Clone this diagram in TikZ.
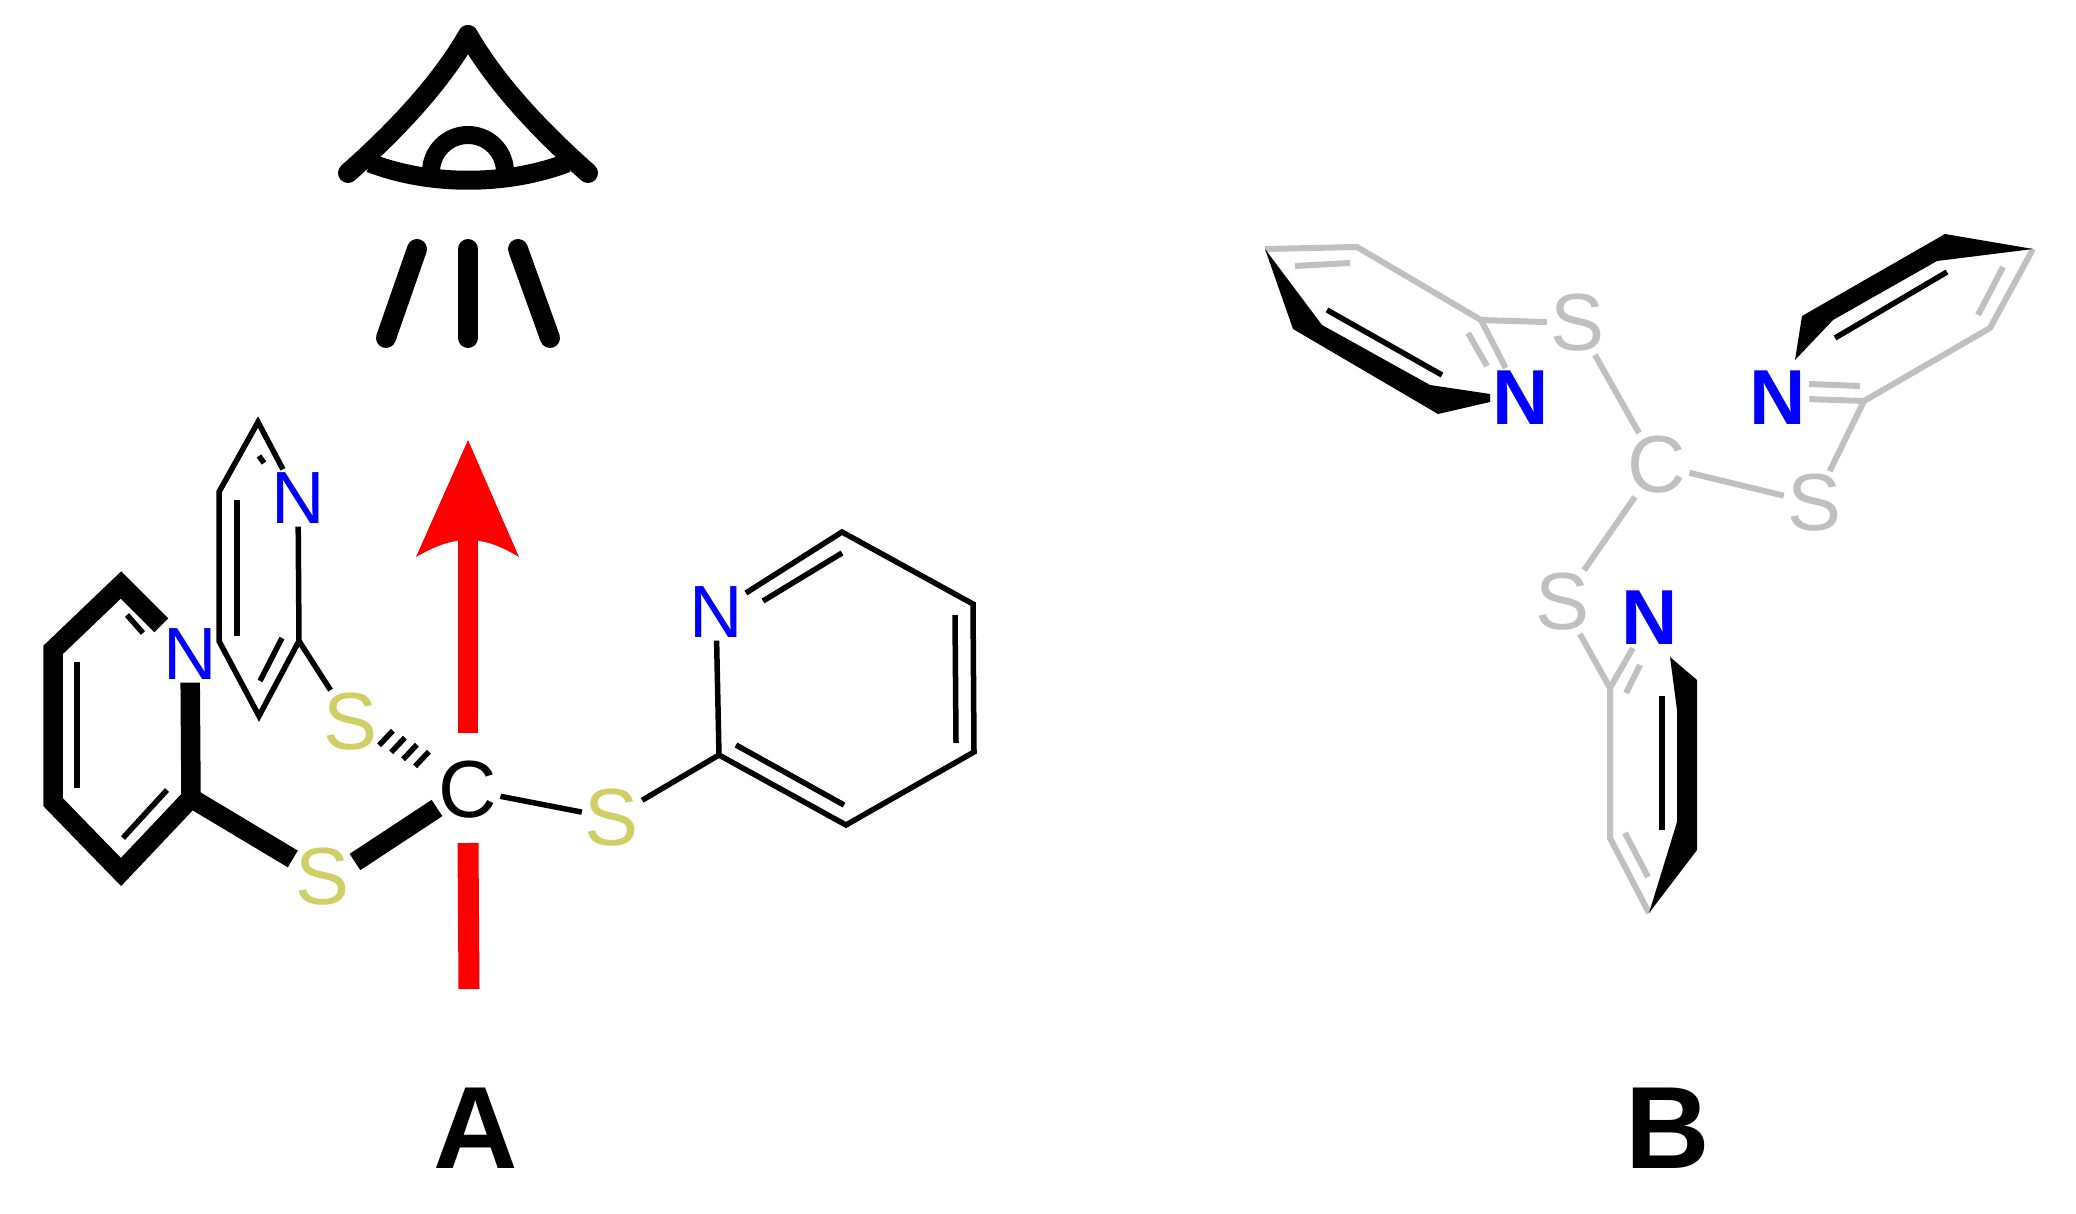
\documentclass[tikz,border=0pt]{standalone}
\usepackage{fontspec}
\usepackage{xcolor}
\usepackage{tikz}
\usetikzlibrary{calc}
\setmainfont{Liberation Sans}
\definecolor{azufre}{HTML}{CFCF66}
\definecolor{gris}{HTML}{C0C0C0}
\definecolor{azul}{HTML}{0000FF}
\definecolor{rojo}{HTML}{FF0000}
\tikzset{
	atom/.style={inner sep=3pt,font=\fontsize{81}{81}\selectfont},
	atomn/.style={inner sep=3pt,text=azul,font=\fontsize{74}{74}\selectfont},
	atomb/.style={atom,text=azul,font=\fontsize{78}{78}\selectfont\bfseries},
	bond/.style={line width=5.5pt,line join=miter},
	bondw/.style={line width=19.5pt,line join=miter},
	bondg/.style={line width=6pt,draw=gris,line join=miter},
	eye/.style={line width=20pt,line cap=round,line join=round},
	letra/.style={font=\fontsize{117}{117}\selectfont\bfseries}
}
\begin{document}
\begin{tikzpicture}[x=1pt,y=-1pt]
		\useasboundingbox (0,0) rectangle (2076,1214);
		% observador
		\coordinate (ojoL) at (348,173);
		\coordinate (ojoR) at (588,173);
		\coordinate (ojoT) at (468,35);
		\draw[eye] (ojoL) .. controls (402,125) and (442,80) .. (ojoT) .. controls (494,80) and (534,125) .. (ojoR);
		\draw[line width=19pt] (370,163) .. controls (430,186) and (506,186) .. (567,163);
		\draw[line width=18pt] (431,172) arc (180:360:37);
		\foreach \Nm/\Xa/\Xb in {r1/417/386,r2/468/468,r3/518/550}
		{
			\coordinate (\Nm a) at (\Xa,249);
			\coordinate (\Nm b) at (\Xb,338);
			\draw[eye] (\Nm a) -- (\Nm b);
		}
		% molecula A, atomos
		\foreach \Nm/\Xc/\Yc/\Texto/\Col in
		{c0/468/790/C/black,s1/323/877/S/azufre,s2/351/722/S/azufre,s3/612/818/S/azufre}
		{
			\node[atom,text=\Col] (\Nm) at (\Xc,\Yc) {\Texto};
		}
		\foreach \Nm/\Xc/\Yc in {n1/190/654,n2/298/498,n3/716/612}
		{
			\node[atomn] (\Nm) at (\Xc,\Yc) {N};
		}
		\foreach \Nm/\Xc/\Yc in
		{a1/191/798,a2/121/872,a3/53/802,a4/53/650,a5/121/585,
		 b1/299/641,b2/259/716,b3/219/641,b4/219/492,b5/258/422,
		 d1/719/755,d2/846/825,d3/974/752,d4/973/604,d5/842/532,
		 u1/355/862,u2/437/808}
		{
			\coordinate (\Nm) at (\Xc,\Yc);
		}
		\draw[bondw] (n1) -- (a1) -- (a2) -- (a3) -- (a4) -- (a5) -- (n1);
		\draw[bondw] (a1) -- (s1);
		\draw[bondw] (u1) -- (u2);
		\draw[bond] (n2) -- (b1) -- (b2) -- (b3) -- (b4) -- (b5) -- (n2);
		\draw[bond] (b1) -- (s2);
		\draw[bond] (c0) -- (s3);
		\draw[bond] (s3) -- (d1);
		\draw[bond] (n3) -- (d1) -- (d2) -- (d3) -- (d4) -- (d5) -- (n3);
		\foreach \Nm/\Xa/\Ya/\Xb/\Yb in
		{i1/77/662/77/788,i2/127/615/143/633,i3/123/838/167/790,
		 i4/237/500/237/636,i5/260/681/282/638,i6/259/456/264/463,
		 i7/763/601/842/553,i8/955/615/956/743,i9/736/745/844/805}
		{
			\coordinate (\Nm a) at (\Xa,\Ya);
			\coordinate (\Nm b) at (\Xb,\Yb);
			\draw[bond] (\Nm a) -- (\Nm b);
		}
		% enlace hacia atras
		\coordinate (hs) at (386,738);
		\coordinate (he) at (434,766);
		\foreach \Xc in {0,0.25,0.5,0.75,1}
		{
			\draw[line width=5.5pt] ($(hs)!\Xc!(he)!10pt!77:(he)$) -- ($(hs)!\Xc!(he)!10pt!-103:(he)$);
		}
		% flecha
		\coordinate (fT) at (468,440);
		\coordinate (fN) at (468,540);
		\coordinate (fB) at (468,733);
		\coordinate (gT) at (468,843);
		\coordinate (gB) at (469,989);
		\draw[rojo,line width=20pt] (fN) -- (fB);
		\draw[rojo,line width=21pt] (gT) -- (gB);
		\fill[rojo] (fT) -- (519,557) .. controls (499,545) and (484,540) .. (fN) .. controls (452,540) and (437,545) .. (416,557) -- cycle;
		\node[letra] (A) at (476,1128) {A};
		% molecula B, atomos
		\foreach \Nm/\Xc/\Yc/\Texto in {C1/1657/465/C,T1/1577/323/S,T2/1814/503/S,T3/1562/602/S}
		{
			\node[atom,text=gris] (\Nm) at (\Xc,\Yc) {\Texto};
		}
		\foreach \Nm/\Xc/\Yc in {N1/1521/398,N2/1778/398,N3/1650/618}
		{
			\node[atomb] (\Nm) at (\Xc,\Yc) {N};
		}
		\foreach \Nm/\Xc/\Yc in
		{e1/1481/320,e2/1357/247,e3/1265/249,f1/1864/401,f2/1990/328,f3/2033/249,
		 g1/1610/688,g2/1610/838,g3/1649/913}
		{
			\coordinate (\Nm) at (\Xc,\Yc);
		}
		\draw[bondg] (C1) -- (T1);
		\draw[bondg] (C1) -- (T2);
		\draw[bondg] (C1) -- (T3);
		\draw[bondg] (T1) -- (e1) -- (e2) -- (e3);
		\draw[bondg] (T2) -- (f1) -- (f2) -- (f3);
		\draw[bondg] (T3) -- (g1) -- (g2) -- (g3);
		\draw[bondg] (e1) -- (N1);
		\draw[bondg] (f1) -- (N2);
		\draw[bondg] (g1) -- (N3);
		\foreach \Nm/\Xa/\Ya/\Xb/\Yb in
		{j1/1295/266/1350/263,j2/1468/333/1487/366,j3/1978/315/2003/267,
		 j4/1809/384/1860/386,j5/1625/833/1648/877,j6/1626/693/1640/665}
		{
			\coordinate (\Nm a) at (\Xa,\Ya);
			\coordinate (\Nm b) at (\Xb,\Yb);
			\draw[bondg] (\Nm a) -- (\Nm b);
		}
		\foreach \Nm/\Xa/\Ya/\Xb/\Yb in
		{k1/1327/310/1442/375,k2/1835/338/1947/272,k3/1662/696/1662/830}
		{
			\coordinate (\Nm a) at (\Xa,\Ya);
			\coordinate (\Nm b) at (\Xb,\Yb);
			\draw[bond] (\Nm a) -- (\Nm b);
		}
		% cunas negras
		\fill[black] (e3) -- (1293,329) -- (1438,414) -- (1490,402) -- (1490,394) -- (1430,385) -- (1322,325) -- cycle;
		\fill[black] (1795,360) -- (1802,316) -- (1945,234) -- (f3) -- (1937,261) -- (1833,320) -- cycle;
		\fill[black] (1670,657) -- (1697,680) -- (1697,850) -- (g3) -- (1677,822) -- (1677,710) -- cycle;
		\node[letra] (B) at (1668,1128) {B};
\end{tikzpicture}
\end{document}
